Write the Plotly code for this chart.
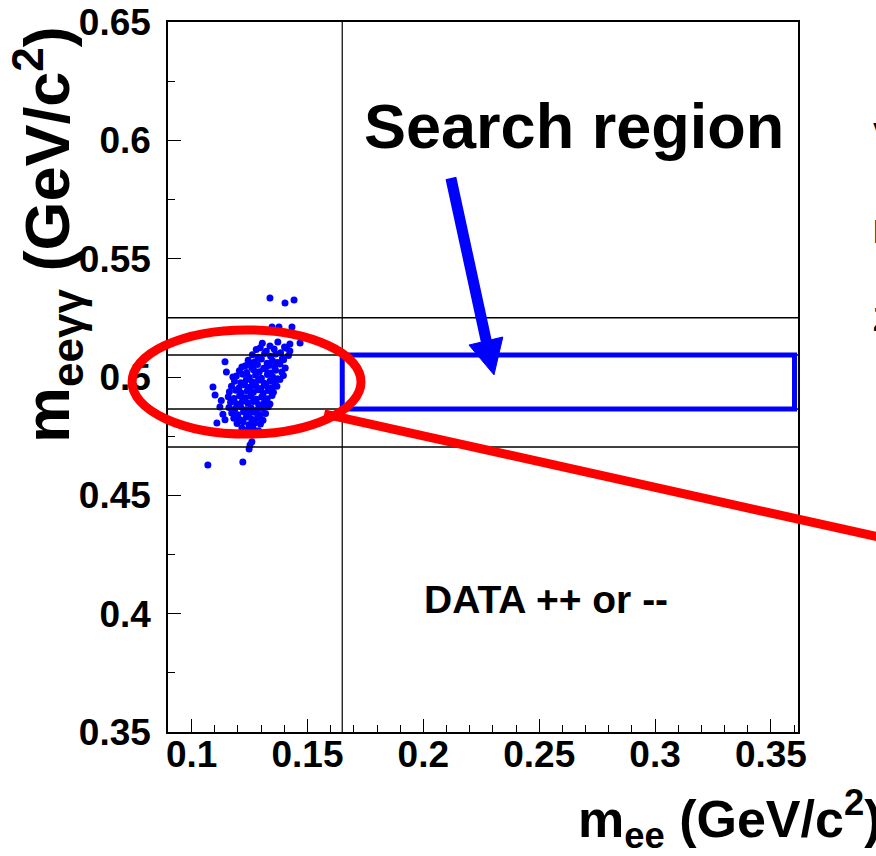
import plotly.graph_objects as go

# ---------------- data ----------------
# (m_ee, m_eegg) in GeV/c^2 of the DATA ++ or -- events
points = [
    (0.1305, 0.5143), (0.1338, 0.5131), (0.1372, 0.5148), (0.1401, 0.5127), (0.1424, 0.5139),
    (0.1279, 0.5116), (0.1296, 0.5124), (0.1322, 0.5109), (0.1356, 0.5118), (0.1384, 0.5102), (0.1409, 0.5121),
    (0.1262, 0.5094), (0.1288, 0.5083), (0.1315, 0.5099), (0.1341, 0.5088), (0.1363, 0.5097), (0.1392, 0.5079), (0.1418, 0.5091),
    (0.1244, 0.5071), (0.1273, 0.5064), (0.1301, 0.5076), (0.1326, 0.5058), (0.1349, 0.5069), (0.1371, 0.5061), (0.1397, 0.5073),
    (0.1232, 0.5048), (0.1259, 0.5041), (0.1284, 0.5053), (0.1311, 0.5037), (0.1333, 0.5049), (0.1358, 0.5042), (0.1381, 0.5055), (0.1404, 0.5038),
    (0.1206, 0.5026), (0.1238, 0.5019), (0.1267, 0.5031), (0.1292, 0.5022), (0.1318, 0.5034), (0.1340, 0.5017), (0.1362, 0.5028), (0.1389, 0.5021),
    (0.1193, 0.5004), (0.1221, 0.5012), (0.1249, 0.4998), (0.1276, 0.5008), (0.1301, 0.4995), (0.1327, 0.5011), (0.1349, 0.5002), (0.1371, 0.4993), (0.1396, 0.5006),
    (0.1185, 0.4982), (0.1212, 0.4976), (0.1236, 0.4988), (0.1262, 0.4979), (0.1288, 0.4986), (0.1313, 0.4974), (0.1338, 0.4983), (0.1359, 0.4977), (0.1381, 0.4989),
    (0.1172, 0.4961), (0.1204, 0.4953), (0.1229, 0.4966), (0.1251, 0.4957), (0.1277, 0.4962), (0.1299, 0.4951), (0.1321, 0.4964), (0.1346, 0.4955), (0.1368, 0.4961),
    (0.1163, 0.4938), (0.1191, 0.4944), (0.1214, 0.4932), (0.1240, 0.4941), (0.1266, 0.4935), (0.1288, 0.4946), (0.1309, 0.4931), (0.1331, 0.4943), (0.1353, 0.4936),
    (0.1158, 0.4917), (0.1183, 0.4909), (0.1207, 0.4921), (0.1232, 0.4912), (0.1255, 0.4919), (0.1279, 0.4906), (0.1302, 0.4916), (0.1326, 0.4908), (0.1347, 0.4922),
    (0.1168, 0.4893), (0.1194, 0.4887), (0.1219, 0.4898), (0.1243, 0.4889), (0.1266, 0.4896), (0.1289, 0.4884), (0.1314, 0.4892), (0.1338, 0.4886),
    (0.1161, 0.4871), (0.1186, 0.4864), (0.1211, 0.4875), (0.1234, 0.4862), (0.1257, 0.4869), (0.1281, 0.4859), (0.1306, 0.4867), (0.1331, 0.4874),
    (0.1173, 0.4848), (0.1199, 0.4841), (0.1224, 0.4853), (0.1248, 0.4844), (0.1271, 0.4851), (0.1296, 0.4839), (0.1319, 0.4846),
    (0.1182, 0.4826), (0.1209, 0.4819), (0.1236, 0.4831), (0.1259, 0.4822), (0.1284, 0.4828), (0.1308, 0.4817),
    (0.1196, 0.4803), (0.1222, 0.4811), (0.1247, 0.4798), (0.1272, 0.4806), (0.1297, 0.4801),
    (0.1217, 0.4784), (0.1241, 0.4776), (0.1266, 0.4781), (0.1289, 0.4773),
    (0.1236, 0.4758), (0.1262, 0.4763),
    # scattered events
    (0.1338, 0.5334), (0.1403, 0.5313), (0.1442, 0.5325), (0.1347, 0.5211), (0.1377, 0.5211),
    (0.1433, 0.5211), (0.1468, 0.5144), (0.1424, 0.5110),
    (0.1070, 0.4628), (0.1221, 0.4641), (0.1252, 0.4713), (0.1260, 0.4726), (0.1248, 0.4696),
    (0.1092, 0.4958), (0.1101, 0.4924), (0.1122, 0.4873), (0.1109, 0.4806), (0.1144, 0.4819),
    (0.1144, 0.5064), (0.1178, 0.5000), (0.1217, 0.5042), (0.1252, 0.5059),
    (0.1128, 0.4901), (0.1135, 0.4843), (0.1150, 0.5021),
]
mee = [p[0] for p in points]
meegg = [p[1] for p in points]

x_range = [0.0898, 0.3617]
y_range = [0.35, 0.65]
x_ticks = [0.1, 0.15, 0.2, 0.25, 0.3, 0.35]
x_ticklabels = ["0.1", "0.15", "0.2", "0.25", "0.3", "0.35"]
y_ticks = [0.35, 0.4, 0.45, 0.5, 0.55, 0.6, 0.65]
y_ticklabels = ["0.35", "0.4", "0.45", "0.5", "0.55", "0.6", "0.65"]

# cut lines
mee_cut = 0.165
meegg_lines = [0.525, 0.5093, 0.4865, 0.4704]
# search region box
search_box = dict(x0=0.165, x1=0.3602, y0=0.4865, y1=0.5093)
# highlight ellipse around the data (centre and half-widths, data units)
ell_cx, ell_cy, ell_rx, ell_ry = 0.1237, 0.4979, 0.0494, 0.0220
# red pointer line (data units)
red_line = dict(x0=0.1572, y0=0.4844, x1=0.3983, y1=0.4320)
# blue arrow (data units)
arrow_shaft = dict(x0=0.2119, y0=0.5841, x1=0.2272, y1=0.5150)
arrow_head = [(0.2197, 0.5135), (0.2343, 0.5169), (0.2305, 0.5009)]

FONT = "Liberation Sans, Arial, sans-serif"
NARROW = "Liberation Sans Narrow, Arial Narrow, Liberation Sans, sans-serif"


def px(x):
    return (x - x_range[0]) / (x_range[1] - x_range[0])


def py(y):
    return (y - y_range[0]) / (y_range[1] - y_range[0])


fig = go.Figure()
fig.add_trace(go.Scatter(
    x=mee, y=meegg, mode="markers",
    marker=dict(color="#0000ff", size=7, line=dict(width=0)),
    showlegend=False, hoverinfo="skip",
))

shapes = []
for yv in meegg_lines:
    shapes.append(dict(type="line", xref="x", yref="y", x0=x_range[0], x1=x_range[1],
                       y0=yv, y1=yv, line=dict(color="black", width=1.5)))
shapes.append(dict(type="line", xref="x", yref="y", x0=mee_cut, x1=mee_cut,
                   y0=y_range[0], y1=y_range[1], line=dict(color="black", width=1.2)))
shapes.append(dict(type="rect", xref="x", yref="y", **search_box,
                   line=dict(color="#0000ff", width=5)))
shapes.append(dict(type="line", xref="x", yref="y", **arrow_shaft,
                   line=dict(color="#0000ff", width=11)))
head_path = "M {} {} L {} {} L {} {} Z".format(*[v for p in arrow_head for v in p])
shapes.append(dict(type="path", xref="x", yref="y", path=head_path,
                   fillcolor="#0000ff", line=dict(color="#0000ff", width=1)))
shapes.append(dict(type="circle", xref="paper", yref="paper",
                   x0=px(ell_cx - ell_rx), x1=px(ell_cx + ell_rx),
                   y0=py(ell_cy - ell_ry), y1=py(ell_cy + ell_ry),
                   line=dict(color="#ff0000", width=9)))
shapes.append(dict(type="line", xref="paper", yref="paper",
                   x0=px(red_line["x0"]), y0=py(red_line["y0"]),
                   x1=px(red_line["x1"]), y1=py(red_line["y1"]),
                   line=dict(color="#ff0000", width=9)))

annotations = [
    dict(text="<b>Search region</b>", x=0.265, y=0.6062, xref="x", yref="y",
         showarrow=False, font=dict(family=FONT, size=63, color="black")),
    dict(text="<b>DATA ++ or --</b>", x=0.2529, y=0.4058, xref="x", yref="y",
         showarrow=False, font=dict(family=FONT, size=39, color="black")),
    dict(text="<b>m<sub>eeγγ</sub> (GeV/c<sup>2</sup>)</b>", x=-0.192, y=0.70,
         xref="paper", yref="paper", xanchor="center", yanchor="middle",
         textangle=-90, showarrow=False,
         font=dict(family=NARROW, size=63, color="black")),
    dict(text="<b>m<sub>ee</sub> (GeV/c<sup>2</sup>)</b>", x=1.1365, y=-0.123,
         xref="paper", yref="paper", xanchor="right", yanchor="middle", showarrow=False,
         font=dict(family=FONT, size=52, color="black")),
    # text of the neighbouring panel, cut off by the right edge
    dict(text="<b>V</b>", x=1.1159, y=0.872, xref="paper", yref="paper",
         xanchor="left", showarrow=False, font=dict(family=FONT, size=34, color="black")),
    dict(text="<b>E</b>", x=1.1159, y=0.735, xref="paper", yref="paper",
         xanchor="left", showarrow=False, font=dict(family=FONT, size=34, color="black")),
    dict(text="<b>Z</b>", x=1.1159, y=0.582, xref="paper", yref="paper",
         xanchor="left", showarrow=False, font=dict(family=FONT, size=34, color="black")),
]

axis_common = dict(showgrid=False, zeroline=False, showline=True, linecolor="black",
                   linewidth=1.5, mirror=True, ticks="inside", tickcolor="black",
                   tickwidth=1.2, ticklen=13,
                   tickfont=dict(family=NARROW, size=37, color="black", weight="bold"))

fig.update_layout(
    width=876, height=856,
    margin=dict(l=168, r=78, t=22, b=124, autoexpand=False),
    paper_bgcolor="white", plot_bgcolor="white",
    shapes=shapes, annotations=annotations,
    xaxis=dict(range=x_range, tickvals=x_ticks, ticktext=x_ticklabels,
               minor=dict(dtick=0.01, tick0=0.1, ticks="inside", ticklen=7,
                          tickcolor="black", tickwidth=1.2),
               ticklabelstandoff=-11, **axis_common),
    yaxis=dict(range=y_range, tickvals=y_ticks, ticktext=y_ticklabels,
               minor=dict(dtick=0.025, tick0=0.35, ticks="inside", ticklen=7,
                          tickcolor="black", tickwidth=1.2),
               ticklabelstandoff=8, **axis_common),
)

fig.write_html("out.html")
